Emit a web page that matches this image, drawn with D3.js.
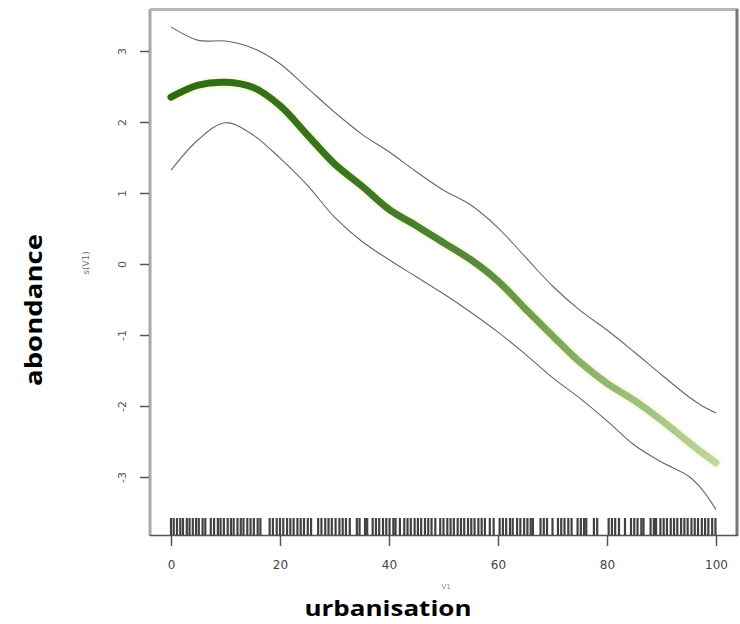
<!DOCTYPE html>
<html>
<head>
<meta charset="utf-8">
<script src="https://cdn.jsdelivr.net/npm/d3@7"></script>
<style>
  body { margin: 0; background: #fff; }
  svg { display: block; }
</style>
</head>
<body>
<script>
// smooth term s(V1) against urbanisation, with its bands and the rug of observations
var xGrid = [0, 5, 10, 15, 20, 25, 30, 35, 40, 45, 50, 55, 60, 65, 70, 75, 80, 85, 90, 95, 97.5, 100];
var fit   = [2.35, 2.52, 2.56, 2.49, 2.23, 1.82, 1.41, 1.10, 0.77, 0.54, 0.30, 0.06, -0.24, -0.63, -1.01, -1.38, -1.68, -1.92, -2.20, -2.51, -2.66, -2.80];
var upper = [3.34, 3.15, 3.14, 3.04, 2.82, 2.48, 2.14, 1.83, 1.58, 1.30, 1.04, 0.83, 0.51, 0.10, -0.31, -0.65, -0.93, -1.24, -1.56, -1.87, -2.00, -2.10];
var lower = [1.32, 1.75, 1.99, 1.82, 1.49, 1.11, 0.66, 0.32, 0.06, -0.18, -0.42, -0.68, -0.96, -1.27, -1.60, -1.89, -2.21, -2.55, -2.79, -2.99, -3.18, -3.46];

var rug = [0, 0.5, 1.1, 1.7, 2.2, 2.9, 3.4, 4.0, 4.6, 5.1, 5.8, 6.3,
  7.3, 7.9, 8.6, 9.1, 9.7, 10.4, 11.0, 11.5, 12.2, 12.8, 13.3, 14.0, 14.6, 15.2, 15.9, 16.4,
  18.1, 18.7, 19.4, 20.0, 20.6, 21.3, 21.9, 22.5, 23.2, 23.8, 24.4, 25.1, 25.7,
  27.0, 27.6, 28.3, 28.9, 29.5, 30.2, 30.9, 31.5, 32.1, 32.8,
  34.1, 34.6, 35.6, 36.0, 37.0, 37.6, 38.2, 38.9, 39.5, 40.1, 40.8, 41.2, 42.0, 42.8, 43.4,
  44.0, 44.7, 45.3, 45.9, 46.6, 47.2, 47.8, 48.5, 49.4, 50.0, 50.7, 51.3, 51.9, 52.6, 53.2,
  53.8, 54.5, 55.1, 55.7, 56.4, 57.0, 57.6, 58.5, 59.2, 60.3, 60.9, 61.5, 62.2, 62.7, 63.5,
  64.1, 64.8, 65.4, 66.0, 66.4, 67.8, 68.4, 69.0, 70.0, 71.0, 71.6, 72.2, 72.9, 73.5, 74.6,
  75.2, 75.8, 76.2, 77.6, 78.2, 80.3, 80.9, 81.5, 82.2, 83.3, 84.4, 85.0, 85.6, 86.3, 86.7,
  88.0, 88.6, 89.0, 89.8, 90.4, 91.0, 91.7, 92.3, 92.9, 93.6, 94.2, 94.8, 95.5, 96.1, 96.7,
  97.4, 98.0, 98.6, 99.3, 99.9];

var xTicks = [0, 20, 40, 60, 80, 100];
var yTicks = [-3, -2, -1, 0, 1, 2, 3];

var width = 740, height = 624;

var svg = d3.select("body").append("svg")
    .attr("width", width)
    .attr("height", height);

// scales
var x = d3.scaleLinear().domain([0, 100]).range([171, 716]);
var y = d3.scaleLinear().domain([-3, 3]).range([477, 51]);

// green ramp along the fit
var grad = svg.append("defs").append("linearGradient")
    .attr("id", "fitGrad")
    .attr("gradientUnits", "userSpaceOnUse")
    .attr("x1", x(0)).attr("x2", x(100))
    .attr("y1", 0).attr("y2", 0);
grad.selectAll("stop")
    .data([[0, "#2f6a12"], [0.35, "#3a7720"], [0.55, "#55893a"], [0.75, "#88b066"], [1, "#bfd79e"]])
  .enter().append("stop")
    .attr("offset", function(d) { return d[0]; })
    .attr("stop-color", function(d) { return d[1]; });

// plot frame
svg.append("line").attr("x1", 150).attr("x2", 150).attr("y1", 9).attr("y2", 536)
    .attr("stroke", "#a8a8a8").attr("stroke-width", 3);
svg.append("line").attr("x1", 150).attr("x2", 738).attr("y1", 9.5).attr("y2", 9.5)
    .attr("stroke", "#b8b8b8").attr("stroke-width", 3);
svg.append("line").attr("x1", 737).attr("x2", 737).attr("y1", 9).attr("y2", 536)
    .attr("stroke", "#777").attr("stroke-width", 3);
svg.append("line").attr("x1", 150).attr("x2", 738).attr("y1", 535.5).attr("y2", 535.5)
    .attr("stroke", "#555").attr("stroke-width", 1.5);

// rug
svg.append("g").selectAll("line")
    .data(rug)
  .enter().append("line")
    .attr("x1", function(d) { return x(d); })
    .attr("x2", function(d) { return x(d); })
    .attr("y1", 518)
    .attr("y2", 535)
    .attr("stroke", "#111")
    .attr("stroke-opacity", 0.8)
    .attr("stroke-width", 2.2);

var line = d3.line().curve(d3.curveCatmullRom);

function pts(vals) {
  return xGrid.map(function(d, i) { return [x(d), y(vals[i])]; });
}

// confidence bands
[upper, lower].forEach(function(band) {
  svg.append("path")
      .attr("d", line(pts(band)))
      .attr("fill", "none")
      .attr("stroke", "#666")
      .attr("stroke-width", 1.1);
});

// fitted smooth, faint halo first
svg.append("path")
    .attr("d", line(pts(fit)))
    .attr("fill", "none")
    .attr("stroke", "#f3f7c8")
    .attr("stroke-width", 12)
    .attr("stroke-linecap", "round")
    .attr("opacity", 0.45);
svg.append("path")
    .attr("d", line(pts(fit)))
    .attr("fill", "none")
    .attr("stroke", "url(#fitGrad)")
    .attr("stroke-width", 7)
    .attr("stroke-linecap", "round");

// x axis
var xAxis = svg.append("g")
    .attr("transform", "translate(0,536)")
    .call(d3.axisBottom(x).tickValues(xTicks).tickSize(10).tickPadding(14));
xAxis.select(".domain").remove();
xAxis.selectAll("line").attr("stroke", "#555").attr("stroke-width", 1.5);
xAxis.selectAll("text")
    .attr("fill", "#444")
    .style("font-family", "DejaVu Sans, sans-serif")
    .style("font-size", "12px");

// y axis, labels turned like R does
var yAxis = svg.append("g")
    .attr("transform", "translate(149,0)")
    .call(d3.axisLeft(y).tickValues(yTicks).tickSize(9).tickFormat(function(d) { return String(d); }));
yAxis.select(".domain").remove();
yAxis.selectAll("line").attr("stroke", "#555").attr("stroke-width", 1.5);
yAxis.selectAll("text")
    .attr("x", null).attr("dy", null)
    .attr("transform", "translate(-27,0) rotate(-90)")
    .attr("text-anchor", "middle")
    .attr("dominant-baseline", "central")
    .attr("fill", "#555")
    .style("font-family", "DejaVu Sans, sans-serif")
    .style("font-size", "11px");

// small original axis names
svg.append("text")
    .attr("transform", "translate(86,263) rotate(-90)")
    .attr("text-anchor", "middle")
    .attr("dominant-baseline", "central")
    .attr("fill", "#777")
    .style("font-family", "DejaVu Sans, sans-serif")
    .style("font-size", "9px")
    .text("s(V1)");
svg.append("text")
    .attr("x", 446).attr("y", 589)
    .attr("text-anchor", "middle")
    .attr("fill", "#888")
    .style("font-family", "DejaVu Sans, sans-serif")
    .style("font-size", "7px")
    .text("V1");

// bold titles
svg.append("text")
    .attr("x", 388).attr("y", 616)
    .attr("text-anchor", "middle")
    .attr("textLength", 167)
    .attr("lengthAdjust", "spacingAndGlyphs")
    .style("font-family", "Open Sans, sans-serif")
    .style("font-weight", "700")
    .style("font-size", "22px")
    .text("urbanisation");
svg.append("text")
    .attr("transform", "translate(42,310) rotate(-90)")
    .attr("text-anchor", "middle")
    .attr("textLength", 152)
    .attr("lengthAdjust", "spacingAndGlyphs")
    .style("font-family", "Open Sans, sans-serif")
    .style("font-weight", "700")
    .style("font-size", "23px")
    .text("abondance");
</script>
</body>
</html>
